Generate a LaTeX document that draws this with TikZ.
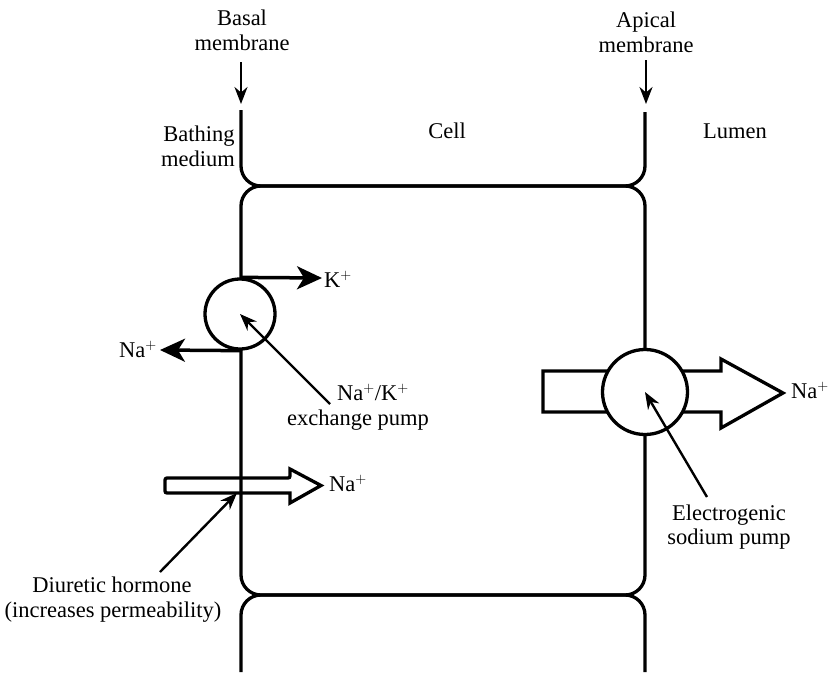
\documentclass[tikz,border=0pt]{standalone}
\usepackage{fontspec}
\setmainfont{Liberation Serif}
\usetikzlibrary{arrows.meta}
\begin{document}
\begin{tikzpicture}[x=1pt,y=-1pt,
  membr/.style={line width=3.3pt},
  lbl/.style={font=\fontsize{22.5}{27}\selectfont, inner sep=0pt},
  ptr/.style={line width=2.4pt,-{Stealth[length=17pt,width=13pt]}},
  ionarrow/.style={line width=3.5pt,-{Stealth[length=25pt,width=23pt,inset=7pt]}},
  pumpc/.style={circle,draw,line width=3.3pt,fill=white,inner sep=0pt},
  block/.style={line width=3.3pt,fill=white,line join=miter}]
\useasboundingbox (0,0) rectangle (835,675);
% lower-left block arrow (membrane drawn on top of it)
\draw[block,rounded corners=2pt] (165,478) -- (290,478) [sharp corners]-- (290,469) -- (321,485.5) -- (290,503) -- (290,493) [rounded corners=2pt]-- (165,493) -- cycle;
% membranes
\draw[membr,rounded corners=20pt] (241,110) -- (241,186) -- (645,186) -- (645,112);
\draw[membr,rounded corners=20pt] (241,186) rectangle (645,595);
\draw[membr,rounded corners=20pt] (241,672) -- (241,595) -- (645,595) -- (645,672);
% right block arrow
\draw[block] (543,371) -- (721,371) -- (721,359) -- (783,393) -- (721,428) -- (721,412) -- (543,412) -- cycle;
% pumps
\node[pumpc,minimum size=70pt] (nak) at (240,314) {};
\node[pumpc,minimum size=85pt] (elec) at (645,392) {};
% ion arrows of the exchange pump
\coordinate (kend) at (322,278);
\coordinate (naend) at (160,350);
\draw[ionarrow] (nak.north) -- (kend);
\draw[ionarrow] (nak.south) -- (naend);
% texts
\node[lbl,anchor=base] (basal1) at (242,25) {Basal};
\node[lbl,anchor=base] (basal2) at (242,50) {membrane};
\node[lbl,anchor=base] (apical1) at (646,27) {Apical};
\node[lbl,anchor=base] (apical2) at (646,52) {membrane};
\node[lbl,anchor=base] (bath1) at (199,141) {Bathing};
\node[lbl,anchor=base] (bath2) at (198,166) {medium};
\node[lbl,anchor=base] (cell) at (447,138) {Cell};
\node[lbl,anchor=base] (lumen) at (735,138) {Lumen};
\node[lbl,anchor=base west] (kion) at (324,287) {K$^{+}$};
\node[lbl,anchor=base east] (naout) at (157,357) {Na$^{+}$};
\node[lbl,anchor=base] (nak1) at (373,400) {Na$^{+}$/K$^{+}$};
\node[lbl,anchor=base] (nak2) at (358,425) {exchange pump};
\node[lbl,anchor=base west] (nain) at (329,491) {Na$^{+}$};
\node[lbl,anchor=base west] (nalumen) at (791,398) {Na$^{+}$};
\node[lbl,anchor=base] (el1) at (729,520) {Electrogenic};
\node[lbl,anchor=base] (el2) at (729,544) {sodium pump};
\node[lbl,anchor=base] (diu1) at (112,592) {Diuretic hormone};
\node[lbl,anchor=base] (diu2) at (113,617) {(increases permeability)};
% pointer arrows
\coordinate (basaltop) at (241,62);
\coordinate (basaltip) at (241,104);
\coordinate (apicaltop) at (646,60);
\coordinate (apicaltip) at (646,104);
\coordinate (naktail) at (330,404);
\coordinate (eltail) at (707,497);
\coordinate (diutail) at (160,572);
\coordinate (diutip) at (237,493);
\draw[ptr] (basaltop) -- (basaltip);
\draw[ptr] (apicaltop) -- (apicaltip);
\draw[ptr] (naktail) -- (nak.center);
\draw[ptr] (eltail) -- (elec.center);
\draw[ptr] (diutail) -- (diutip);
\end{tikzpicture}
\end{document}
